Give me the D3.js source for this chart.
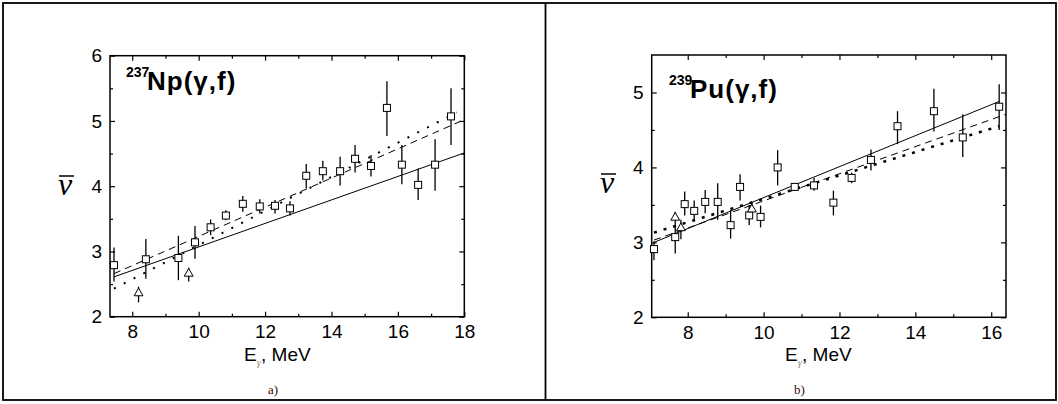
<!DOCTYPE html>
<html>
<head>
<script src="https://cdn.jsdelivr.net/npm/d3@7"></script>
  <meta charset="utf-8">
  <title>nu-bar vs E-gamma</title>
    <style>
        body { margin: 0; background: #FFF; }
        svg { display: block; }
        text { font-family: "Liberation Sans", Arial, sans-serif; fill: #000; }
        .tick line { stroke: #000; stroke-width: 1.2px; }
        .tick text { font-size: 19px; font-family: "Liberation Sans", Arial, sans-serif; }
    </style>
</head>
<body>
    <script>
        // 237Np(g,f) - squares, triangles, fit lines
        var npE    = [7.45, 8.41, 9.39, 9.89, 10.36, 10.82, 11.33, 11.84, 12.30, 12.75, 13.24, 13.74, 14.26, 14.71, 15.19, 15.67, 16.12, 16.61, 17.12, 17.60];
        var npNu   = [2.79, 2.88, 2.90, 3.14, 3.37, 3.55, 3.73, 3.69, 3.70, 3.66, 4.16, 4.23, 4.23, 4.42, 4.31, 5.20, 4.33, 4.02, 4.33, 5.07];
        var npHi   = [3.06, 3.19, 3.24, 3.39, 3.49, 3.63, 3.85, 3.80, 3.79, 3.77, 4.34, 4.39, 4.45, 4.63, 4.48, 5.61, 4.63, 4.27, 4.72, 5.50];
        var npLo   = [2.54, 2.58, 2.56, 2.89, 3.25, 3.48, 3.61, 3.58, 3.58, 3.55, 3.97, 4.09, 4.01, 4.21, 4.15, 4.77, 4.03, 3.79, 3.93, 4.63];
        var npTriE  = [8.19, 9.70];
        var npTriNu = [2.36, 2.66];
        var npTriHi = [2.46, 2.75];
        var npTriLo = [2.22, 2.54];
        var npSolid  = [[7.45, 2.61], [18.0, 4.51]];
        var npDashed = [[7.45, 2.66], [18.0, 5.02]];
        var npDotted = [[7.45, 2.43], [17.77, 5.13]];

        // 239Pu(g,f)
        var puE    = [7.11, 7.67, 7.92, 8.17, 8.46, 8.79, 9.13, 9.38, 9.62, 9.92, 10.37, 10.82, 11.33, 11.84, 12.32, 12.83, 13.53, 14.49, 15.25, 16.21];
        var puNu   = [2.91, 3.07, 3.51, 3.42, 3.54, 3.54, 3.23, 3.74, 3.36, 3.34, 4.00, 3.74, 3.76, 3.53, 3.86, 4.10, 4.55, 4.75, 4.40, 4.81];
        var puHi   = [3.01, 3.23, 3.68, 3.56, 3.70, 3.79, 3.43, 3.91, 3.50, 3.49, 4.23, 3.79, 3.86, 3.69, 3.93, 4.24, 4.75, 5.05, 4.71, 5.11];
        var puLo   = [2.76, 2.85, 3.36, 3.28, 3.39, 3.30, 3.05, 3.56, 3.23, 3.20, 3.76, 3.69, 3.69, 3.36, 3.79, 3.96, 4.31, 4.48, 4.14, 4.50];
        var puTriE  = [7.67, 7.82, 9.69];
        var puTriNu = [3.33, 3.19, 3.44];
        var puTriHi = [3.41, 3.30, 3.54];
        var puTriLo = [3.23, 3.04, 3.36];
        var puSolid  = [[7.11, 3.00], [16.21, 4.88]];
        var puDashed = [[7.11, 3.03], [16.39, 4.71]];
        var puDotted = [[7.11, 3.13], [16.21, 4.55]];

        var npXMajor = [8, 10, 12, 14, 16, 18], npXMinor = [9, 11, 13, 15, 17];
        var npYMajor = [2, 3, 4, 5, 6],         npYMinor = [2.5, 3.5, 4.5, 5.5];
        var puXMajor = [8, 10, 12, 14, 16],     puXMinor = [9, 11, 13, 15];
        var puYMajor = [2, 3, 4, 5],            puYMinor = [2.5, 3.5, 4.5];

        var svg = d3.select('body').append('svg').attr('width', 1058).attr('height', 404);

        // outer frame + divider
        svg.append('rect').attr('x', 3).attr('y', 3).attr('width', 1053).attr('height', 397)
            .attr('fill', 'none').attr('stroke', '#000').attr('stroke-width', 1.8);
        svg.append('line').attr('x1', 545.5).attr('x2', 545.5).attr('y1', 3).attr('y2', 400)
            .attr('stroke', '#000').attr('stroke-width', 1.8);

        function panel(p){
            var x = d3.scaleLinear().domain(p.xDom).range([p.left, p.right]);
            var y = d3.scaleLinear().domain(p.yDom).range([p.bottom, p.top]);
            var g = svg.append('g');

            function ax(a, tr, vals, size, labels){
                var axis = a.tickValues(vals).tickSize(-size).tickSizeOuter(0).tickPadding(8)
                    .tickFormat(labels ? d3.format('d') : '');
                var s = g.append('g').attr('transform', tr).call(axis);
                s.select('.domain').remove();
                return s;
            }
            ax(d3.axisBottom(x), 'translate(0,' + p.bottom + ')', p.xMajor, 5, true);
            ax(d3.axisBottom(x), 'translate(0,' + p.bottom + ')', p.xMinor, 3, false);
            ax(d3.axisTop(x), 'translate(0,' + p.top + ')', p.xMajor, 5, false);
            ax(d3.axisTop(x), 'translate(0,' + p.top + ')', p.xMinor, 3, false);
            ax(d3.axisLeft(y), 'translate(' + p.left + ',0)', p.yMajor, 5, true);
            ax(d3.axisLeft(y), 'translate(' + p.left + ',0)', p.yMinor, 3, false);
            ax(d3.axisRight(y), 'translate(' + p.right + ',0)', p.yMajor, 5, false);
            ax(d3.axisRight(y), 'translate(' + p.right + ',0)', p.yMinor, 3, false);

            g.append('rect').attr('x', p.left).attr('y', p.top)
                .attr('width', p.right - p.left).attr('height', p.bottom - p.top)
                .attr('fill', 'none').attr('stroke', '#000').attr('stroke-width', 1.5);

            var line = d3.line().x(function(d){ return x(d[0]); }).y(function(d){ return y(d[1]); });
            g.append('path').attr('d', line(p.solid)).attr('fill', 'none').attr('stroke', '#000').attr('stroke-width', 1);
            g.append('path').attr('d', line(p.dashed)).attr('fill', 'none').attr('stroke', '#000')
                .attr('stroke-width', 1).attr('stroke-dasharray', '7,5');
            g.append('path').attr('d', line(p.dotted)).attr('fill', 'none').attr('stroke', '#000')
                .attr('stroke-width', p.dotW).attr('stroke-dasharray', p.dotDash);

            // error bars
            var bars = p.e.map(function(d, i){ return [d, p.hi[i], p.lo[i]]; })
                .concat(p.tE.map(function(d, i){ return [d, p.tHi[i], p.tLo[i]]; }));
            g.selectAll('line.err').data(bars).enter().append('line').attr('class', 'err')
                .attr('x1', function(d){ return x(d[0]); }).attr('x2', function(d){ return x(d[0]); })
                .attr('y1', function(d){ return y(d[1]); }).attr('y2', function(d){ return y(d[2]); })
                .attr('stroke', '#000').attr('stroke-width', 1.3);

            g.selectAll('rect.sq').data(p.e).enter().append('rect').attr('class', 'sq')
                .attr('x', function(d){ return x(d) - 3.5; })
                .attr('y', function(d, i){ return y(p.nu[i]) - 3.5; })
                .attr('width', 7).attr('height', 7)
                .attr('fill', '#FFF').attr('stroke', '#000').attr('stroke-width', 1);

            g.selectAll('path.tri').data(p.tE).enter().append('path').attr('class', 'tri')
                .attr('d', d3.symbol().type(d3.symbolTriangle).size(34))
                .attr('transform', function(d, i){ return 'translate(' + x(d) + ',' + y(p.tNu[i]) + ')'; })
                .attr('fill', '#FFF').attr('stroke', '#000').attr('stroke-width', 1);

            // title
            g.append('text').attr('x', p.titleX).attr('y', p.titleY - 13)
                .style('font-size', '14px').style('font-weight', 'bold').text(p.iso);
            g.append('text').attr('x', p.titleX + 21).attr('y', p.titleY)
                .style('font-size', '26px').style('font-weight', 'bold').style('letter-spacing', '1px').text(p.name);

            // axis titles
            g.append('text').attr('x', p.nuX).attr('y', p.nuY)
                .style('font-family', '"Liberation Serif", "Times New Roman", serif')
                .style('font-style', 'italic').style('font-size', '32px').text('\u03BD');
            g.append('line').attr('x1', p.nuX + 1).attr('x2', p.nuX + 16)
                .attr('y1', p.nuY - 19).attr('y2', p.nuY - 19).attr('stroke', '#000').attr('stroke-width', 1.5);

            var xt = g.append('text').attr('x', p.exX).attr('y', 361).style('font-size', '19px');
            xt.append('tspan').text('E');
            xt.append('tspan').attr('dy', 5).style('font-size', '11px').style('font-family', '"Liberation Serif", serif')
                .style('font-style', 'italic').style('fill', '#9a8a78').text('\u03B3');
            xt.append('tspan').attr('dy', -5).text(', MeV');

            g.append('text').attr('x', p.capX).attr('y', 394)
                .style('font-family', '"Liberation Serif", "Times New Roman", serif')
                .style('font-size', '13px').style('fill', '#3a0808').text(p.cap);
        }

        panel({
            left: 110, right: 464.3, top: 55.7, bottom: 316.7,
            xDom: [7.33, 18], yDom: [2, 6],
            xMajor: npXMajor, xMinor: npXMinor, yMajor: npYMajor, yMinor: npYMinor,
            e: npE, nu: npNu, hi: npHi, lo: npLo,
            tE: npTriE, tNu: npTriNu, tHi: npTriHi, tLo: npTriLo,
            solid: npSolid, dashed: npDashed, dotted: npDotted, dotW: 2, dotDash: '2,9',
            iso: '237', name: 'Np(\u03B3,f)', titleX: 126, titleY: 90,
            nuX: 58, nuY: 195, exX: 244, capX: 268, cap: 'a)'
        });

        panel({
            left: 651.7, right: 1006, top: 55, bottom: 317.3,
            xDom: [7.05, 16.39], yDom: [2, 5.5],
            xMajor: puXMajor, xMinor: puXMinor, yMajor: puYMajor, yMinor: puYMinor,
            e: puE, nu: puNu, hi: puHi, lo: puLo,
            tE: puTriE, tNu: puTriNu, tHi: puTriHi, tLo: puTriLo,
            solid: puSolid, dashed: puDashed, dotted: puDotted, dotW: 2.5, dotDash: '3,7',
            iso: '239', name: 'Pu(\u03B3,f)', titleX: 669, titleY: 98,
            nuX: 600, nuY: 193, exX: 785, capX: 794, cap: 'b)'
        });
    </script>
</body>
</html>
